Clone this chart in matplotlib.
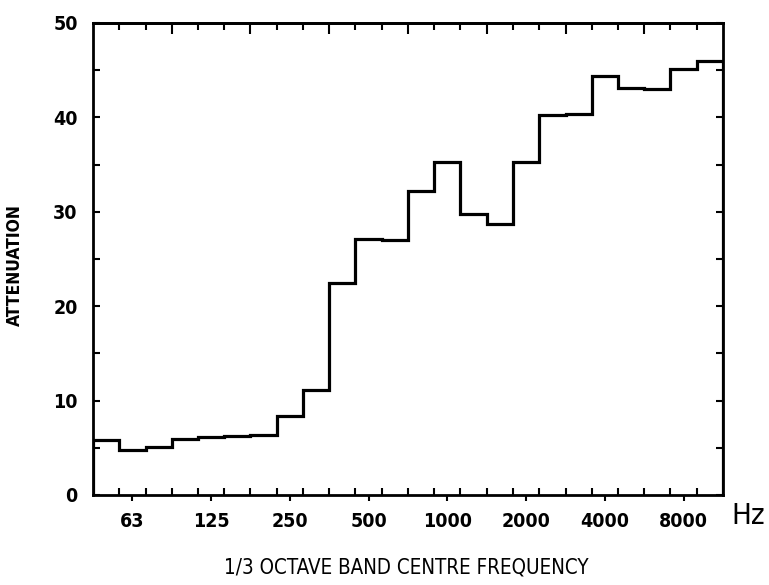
import numpy as np
import matplotlib
matplotlib.use("Agg")
import matplotlib.pyplot as plt
from matplotlib.ticker import FixedLocator, NullFormatter

# 1/3 octave band nominal centre frequencies (Hz)
bands = [50, 63, 80, 100, 125, 160, 200, 250, 315, 400, 500, 630,
         800, 1000, 1250, 1600, 2000, 2500, 3150, 4000, 5000, 6300, 8000, 10000]
# attenuation per band (dB)
attenuation = [5.8, 4.8, 5.1, 5.9, 6.1, 6.25, 6.4, 8.4, 11.1, 22.5, 27.1, 27.0,
               32.2, 35.3, 29.8, 28.7, 35.3, 40.3, 40.4, 44.4, 43.1, 43.0, 45.1, 46.0]
xtick_labels = ["63", "125", "250", "500", "1000", "2000", "4000", "8000"]
ytick_values = [0, 10, 20, 30, 40, 50]

# exact band centres / edges on log axis (band numbers 17..40)
n = np.arange(17, 17 + len(bands))
centres = 10 ** (n / 10)
edges = 10 ** ((np.append(n, n[-1] + 1) - 0.5) / 10)

fam = ["DejaVu Sans"]
cond = "condensed"

fig = plt.figure(figsize=(7.69, 5.85), dpi=100)
ax = fig.add_axes([93 / 769, 90 / 585, 630 / 769, 472 / 585])

ax.stairs(attenuation, edges, color="black", linewidth=2.3)

ax.set_xscale("log")
ax.set_xlim(edges[0], edges[-1])
ax.set_ylim(0, 50)

# x ticks: labels at band centres (outward), edges as inward minor ticks
label_pos = [centres[bands.index(int(l))] for l in xtick_labels]
ax.xaxis.set_major_locator(FixedLocator(label_pos))
ax.xaxis.set_minor_locator(FixedLocator(edges[1:-1]))
ax.xaxis.set_minor_formatter(NullFormatter())
ax.set_xticklabels(xtick_labels, family=fam, fontstretch=cond,
                   fontweight="bold", fontsize=14)
ax.tick_params(axis="x", which="major", direction="out", length=4, width=1.5,
               bottom=True, top=False, pad=8)
ax.tick_params(axis="x", which="minor", direction="in", length=5, width=1.5,
               bottom=True, top=False)

# top ticks
sec = ax.secondary_xaxis("top")
sec.xaxis.set_major_locator(FixedLocator(edges[3:-1:3]))
sec.xaxis.set_minor_locator(FixedLocator([e for i, e in enumerate(edges[1:-1], 1) if i % 3]))
sec.xaxis.set_major_formatter(NullFormatter())
sec.xaxis.set_minor_formatter(NullFormatter())
sec.tick_params(which="major", direction="in", length=8, width=1.5)
sec.tick_params(which="minor", direction="in", length=5, width=1.5)
sec.spines["top"].set_linewidth(2)

# y ticks
ax.set_yticks(ytick_values)
ax.set_yticks(np.arange(5, 50, 10), minor=True)
ax.set_yticklabels([str(v) for v in ytick_values], family=fam, fontstretch=cond,
                   fontweight="bold", fontsize=14)
ax.tick_params(axis="y", which="both", direction="in", length=5, width=1.5,
               left=True, right=True, pad=11)

for s in ax.spines.values():
    s.set_linewidth(2)

ax.set_ylabel("ATTENUATION", family=fam, fontstretch=cond, fontweight="bold",
              fontsize=12.5)
ax.yaxis.set_label_coords((15 - 93) / 630, (495 - 265) / 472)
ax.yaxis.label.set_va("center")
ax.set_xlabel("1/3 OCTAVE BAND CENTRE FREQUENCY", family=fam, fontstretch=cond,
              fontsize=14.8)
ax.xaxis.set_label_coords((406 - 93) / 630, (495 - 568) / 472)
ax.xaxis.label.set_va("center")
fig.text(731 / 769, 1 - 516 / 585, "Hz", family=fam, fontstretch=cond,
         fontsize=21, va="center", ha="left")

fig.savefig("out.png", dpi=100)
